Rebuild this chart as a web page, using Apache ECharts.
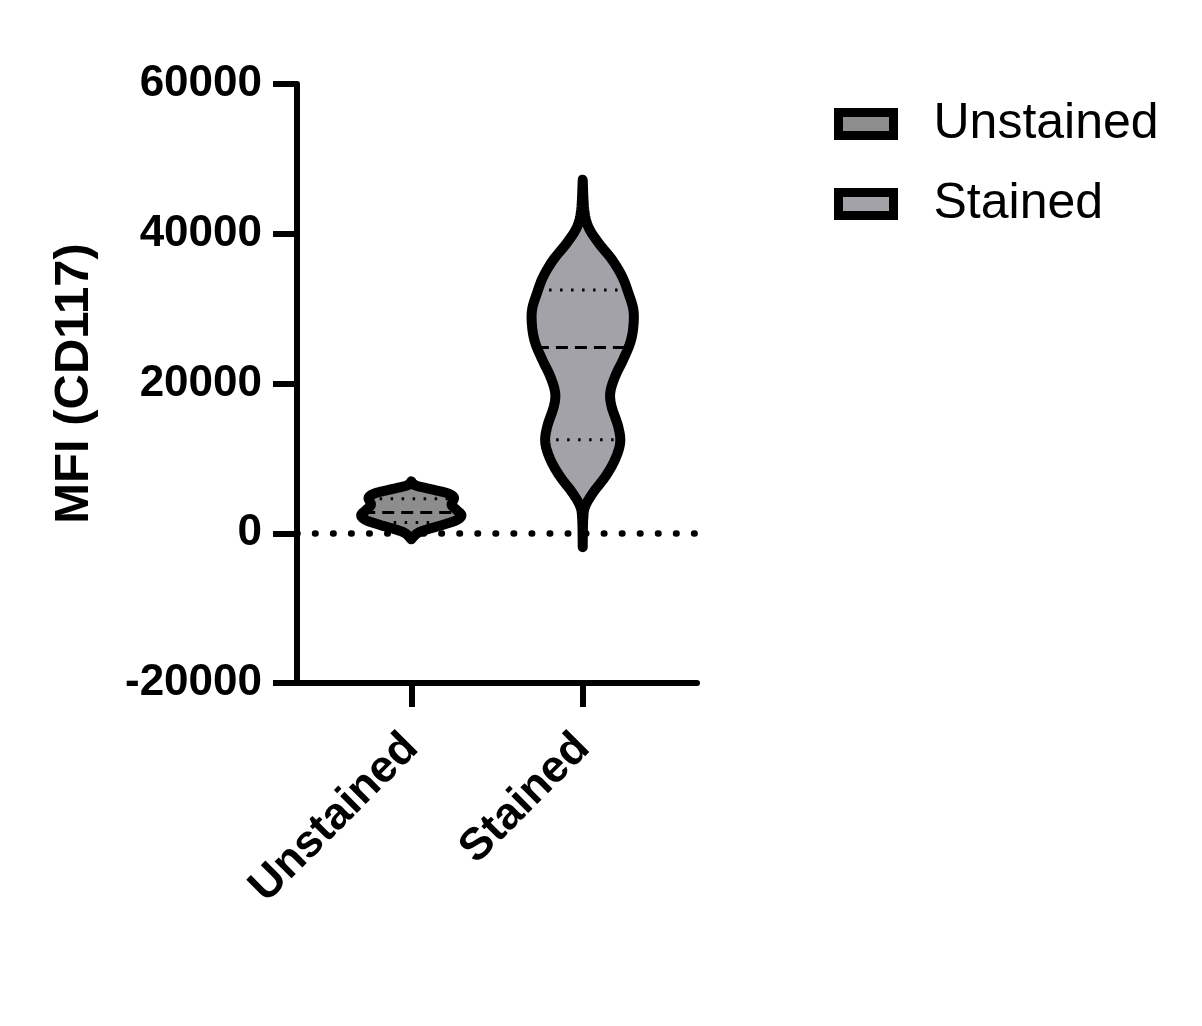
<!DOCTYPE html>
<html>
<head>
<meta charset="utf-8">
<script src="https://cdn.jsdelivr.net/npm/echarts@6/dist/echarts.min.js"></script>
<style>
html,body{margin:0;padding:0;background:#fff;}
#chart{width:1202px;height:1026px;}
</style>
</head>
<body>
<div id="chart"></div>
<script>
// ---- data ----
const categories = ['Unstained', 'Stained'];
const yTicks = [-20000, 0, 20000, 40000, 60000];
// violin profiles: MFI values and relative density (half-width) at each value
const unstainedValues  = [6933, 6400, 5867, 5333, 4800, 4267, 3733, 3067, 2400, 1733, 1067, 533, 0, -800];
const unstainedDensity = [0, 0.08, 0.40, 0.72, 0.84, 0.82, 0.80, 0.90, 0.99, 0.89, 0.60, 0.32, 0.12, 0];
const stainedValues  = [47200, 43200, 40933, 38800, 36533, 34267, 32133, 29867, 27600, 25467, 23200, 20933, 18800, 16933, 14267, 12133, 9867, 7600, 5467, 3600, 1867, -1870];
const stainedDensity = [0, 0.03, 0.11, 0.31, 0.58, 0.78, 0.90, 1.0, 1.0, 0.94, 0.80, 0.64, 0.545, 0.57, 0.70, 0.74, 0.64, 0.45, 0.21, 0.05, 0.01, 0];
// quartiles [Q1, median, Q3]
const unstainedQuartiles = [1450, 2780, 4600];
const stainedQuartiles   = [12500, 24800, 32500];

// ---- layout / style ----
const catPos = [2, 5];          // positions of categories on the x scale (0..7)
const widthScale = 0.886;       // x-units per density unit
const fills = ['#8d8d8d', '#a3a2a8'];
const FONT = 'Arial, "Liberation Sans", Helvetica, sans-serif';

const profiles = [
  {values: unstainedValues, density: unstainedDensity, q: unstainedQuartiles},
  {values: stainedValues, density: stainedDensity, q: stainedQuartiles}
];

function catmull(pts, steps) {
  const out = [];
  const n = pts.length;
  for (let i = 0; i < n - 1; i++) {
    const p0 = pts[Math.max(0, i - 1)], p1 = pts[i], p2 = pts[i + 1], p3 = pts[Math.min(n - 1, i + 2)];
    for (let s = 0; s < steps; s++) {
      const t = s / steps, t2 = t * t, t3 = t2 * t;
      const f = (a, b, c, d) => 0.5 * ((2 * b) + (-a + c) * t + (2 * a - 5 * b + 4 * c - d) * t2 + (-a + 3 * b - 3 * c + d) * t3);
      out.push([f(p0[0], p1[0], p2[0], p3[0]), Math.max(0, f(p0[1], p1[1], p2[1], p3[1]))]);
    }
  }
  out.push(pts[n - 1].slice());
  return out;
}
function widthAt(curve, py) {
  for (let i = 0; i < curve.length - 1; i++) {
    const a = curve[i], b = curve[i + 1];
    if ((py >= a[0] && py <= b[0]) || (py <= a[0] && py >= b[0])) {
      const t = b[0] === a[0] ? 0 : (py - a[0]) / (b[0] - a[0]);
      return a[1] + t * (b[1] - a[1]);
    }
  }
  return 0;
}

function makeRender(k) {
  return function (params, api) {
    const p = profiles[k];
    const x = catPos[k];
    const cx = api.coord([x, 0])[0];
    const unit = api.size([1, 0])[0];
    const pts = p.values.map((v, i) => [api.coord([x, v])[1], p.density[i] * widthScale * unit]);
    const curve = catmull(pts, 10);
    const poly = [];
    curve.forEach(c => poly.push([cx - c[1], c[0]]));
    for (let i = curve.length - 1; i >= 0; i--) poly.push([cx + curve[i][1], curve[i][0]]);
    const children = [{
      type: 'polygon', shape: {points: poly},
      style: {fill: fills[k], stroke: null}
    }];
    p.q.forEach((qv, j) => {
      const py = api.coord([x, qv])[1];
      const w = widthAt(curve, py);
      children.push({
        type: 'line',
        shape: {x1: cx - w, y1: py, x2: cx + w, y2: py},
        style: {stroke: '#000', lineWidth: 3, lineDash: j === 1 ? [12, 7] : [2.5, 8.5], fill: null}
      });
    });
    children.push({
      type: 'polygon', shape: {points: poly},
      style: {fill: null, stroke: '#000', lineWidth: 10, lineJoin: 'round'}
    });
    return {type: 'group', children: children};
  };
}

const chart = echarts.init(document.getElementById('chart'), null, {renderer: 'canvas'});
chart.setOption({
  backgroundColor: '#fff',
  animation: false,
  grid: {left: 297, right: 505, top: 84, bottom: 343, containLabel: false},
  legend: {
    orient: 'vertical', left: 829, top: 91,
    itemWidth: 55, itemHeight: 23, itemGap: 24, icon: 'rect',
    textStyle: {fontSize: 50, lineHeight: 56, color: '#000', fontFamily: FONT, padding: [0, 0, 0, 35]},
    data: categories.map((c, i) => ({name: c, itemStyle: {color: fills[i], borderColor: '#000', borderWidth: 9}}))
  },
  xAxis: {
    type: 'value', min: 0, max: 7,
    splitLine: {show: false},
    axisLine: {show: true, onZero: false, lineStyle: {color: '#000', width: 6}},
    axisTick: {show: true, customValues: catPos, length: 24, lineStyle: {color: '#000', width: 6}},
    axisLabel: {
      show: true, customValues: catPos,
      formatter: v => categories[catPos.indexOf(v)] || '',
      rotate: 45, margin: 58, fontSize: 45, fontWeight: 'bold', color: '#000', fontFamily: FONT
    }
  },
  yAxis: {
    type: 'value', min: yTicks[0], max: yTicks[yTicks.length - 1], interval: 20000,
    splitLine: {show: false},
    axisLine: {show: true, lineStyle: {color: '#000', width: 6}},
    axisTick: {show: true, length: 24, lineStyle: {color: '#000', width: 6}},
    axisLabel: {margin: 35, fontSize: 44, fontWeight: 'bold', color: '#000', fontFamily: FONT,
      formatter: v => String(v)},
    name: 'MFI (CD117)', nameLocation: 'middle', nameGap: 198,
    nameTextStyle: {fontSize: 49, fontWeight: 'bold', color: '#000', fontFamily: FONT}
  },
  series: [
    {
      type: 'line', data: [], silent: true, z: 1,
      markLine: {
        silent: true, symbol: ['none', 'none'], label: {show: false},
        lineStyle: {color: '#000', width: 6.5, type: [0.5, 17.55], cap: 'round'},
        emphasis: {disabled: true},
        data: [{yAxis: 0}]
      }
    },
    {
      name: categories[0], type: 'custom', z: 3,
      itemStyle: {color: fills[0], borderColor: '#000', borderWidth: 9},
      data: [[catPos[0], unstainedQuartiles[1]]], renderItem: makeRender(0)
    },
    {
      name: categories[1], type: 'custom', z: 3,
      itemStyle: {color: fills[1], borderColor: '#000', borderWidth: 9},
      data: [[catPos[1], stainedQuartiles[1]]], renderItem: makeRender(1)
    }
  ]
});
</script>
</body>
</html>
